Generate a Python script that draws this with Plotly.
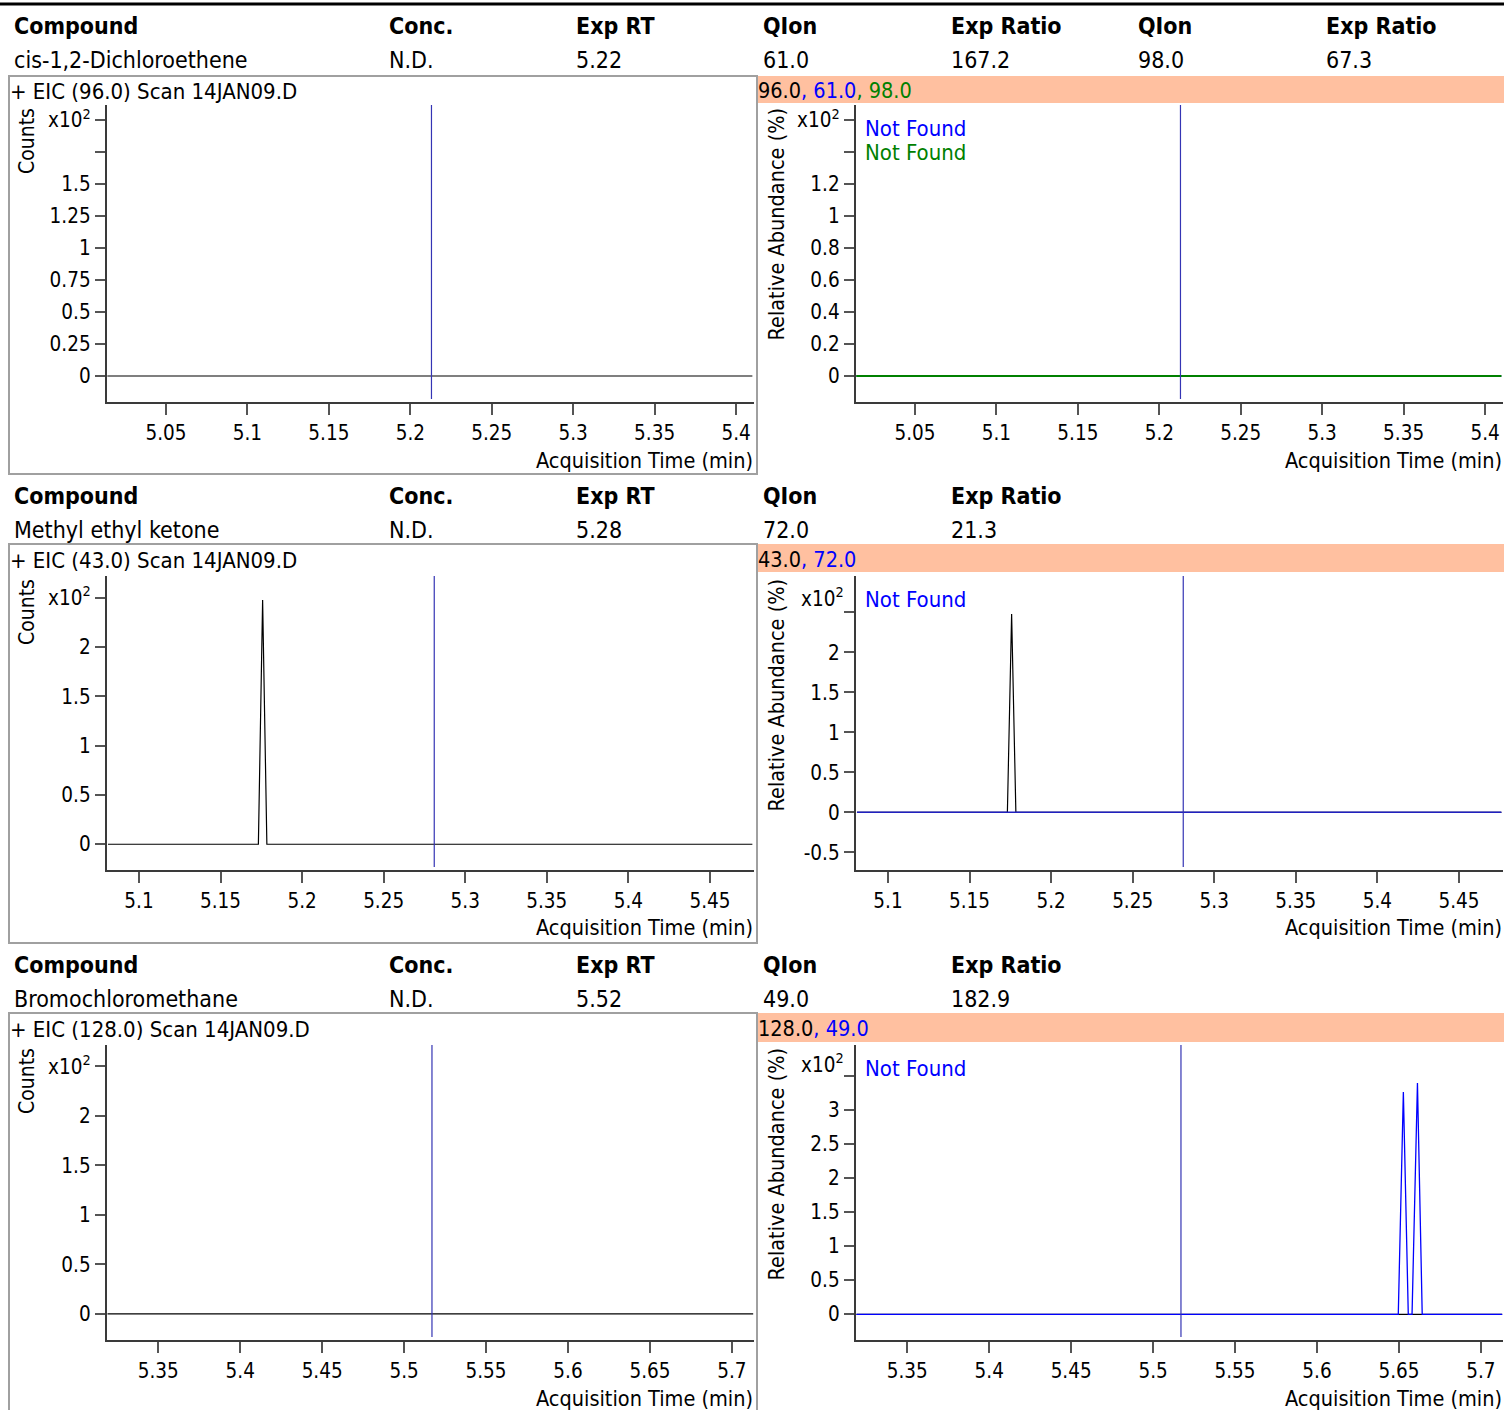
import plotly.graph_objects as go

# ---------------- data ----------------
header_cols = ["Compound", "Conc.", "Exp RT", "QIon", "Exp Ratio", "QIon", "Exp Ratio"]
compounds = ["cis-1,2-Dichloroethene", "Methyl ethyl ketone", "Bromochloromethane"]
concs = ["N.D.", "N.D.", "N.D."]
exp_rt = ["5.22", "5.28", "5.52"]
qion_info = [["61.0", "167.2", "98.0", "67.3"], ["72.0", "21.3"], ["49.0", "182.9"]]
eic_titles = ["+ EIC (96.0) Scan 14JAN09.D", "+ EIC (43.0) Scan 14JAN09.D", "+ EIC (128.0) Scan 14JAN09.D"]
ion_labels = [[("96.0", "black"), ("61.0", "blue"), ("98.0", "green")],
              [("43.0", "black"), ("72.0", "blue")],
              [("128.0", "black"), ("49.0", "blue")]]
not_found = [[("Not Found", "blue"), ("Not Found", "green")],
             [("Not Found", "blue")],
             [("Not Found", "blue")]]

# retention-time marker (min)
rt_marker = [5.213, 5.281, 5.517]

# block 1: cis-1,2-Dichloroethene
eic96_t = [5.014, 5.410]
eic96_y = [0, 0]
q61_t = [5.014, 5.410]
q61_y = [0, 0]
q98_t = [5.014, 5.410]
q98_y = [0, 0]

# block 2: Methyl ethyl ketone
eic43_t = [5.081, 5.1732, 5.1758, 5.1784, 5.476]
eic43_y = [0, 0, 2.478, 0, 0]
rel43_y = [0, 0, 2.479, 0, 0]
q72_t = [5.081, 5.476]
q72_y = [0, 0]

# block 3: Bromochloromethane
eic128_t = [5.319, 5.713]
eic128_y = [0, 0]
q49_t = [5.319, 5.6496, 5.6527, 5.6557, 5.6580, 5.6613, 5.6642, 5.713]
q49_y = [0, 0, 3.27, 0, 0, 3.40, 0, 0]

# axis ticks
x_ticks = [[5.05, 5.1, 5.15, 5.2, 5.25, 5.3, 5.35, 5.4],
           [5.1, 5.15, 5.2, 5.25, 5.3, 5.35, 5.4, 5.45],
           [5.35, 5.4, 5.45, 5.5, 5.55, 5.6, 5.65, 5.7]]
x_ranges = [[5.0135, 5.411], [5.0801, 5.477], [5.3184, 5.7135]]

yl_ticks = [[0, 0.25, 0.5, 0.75, 1, 1.25, 1.5, 2.0],
            [0, 0.5, 1, 1.5, 2, 2.5],
            [0, 0.5, 1, 1.5, 2, 2.5]]
yl_text = [["0", "0.25", "0.5", "0.75", "1", "1.25", "1.5", "x10<sup>2</sup>"],
           ["0", "0.5", "1", "1.5", "2", "x10<sup>2</sup>"],
           ["0", "0.5", "1", "1.5", "2", "x10<sup>2</sup>"]]
yl_unlabeled = [[1.75], [], []]
yl_ranges = [[-0.203, 2.117], [-0.261, 2.721], [-0.263, 2.717]]

yr_ticks = [[0, 0.2, 0.4, 0.6, 0.8, 1.0, 1.2, 1.6],
            [-0.5, 0, 0.5, 1, 1.5, 2],
            [0, 0.5, 1, 1.5, 2, 2.5, 3]]
yr_text = [["0", "0.2", "0.4", "0.6", "0.8", "1", "1.2", "x10<sup>2</sup>"],
           ["-0.5", "0", "0.5", "1", "1.5", "2"],
           ["0", "0.5", "1", "1.5", "2", "2.5", "3"]]
yr_unlabeled = [[1.4], [2.5], [3.5]]
yr_ranges = [[-0.1625, 1.694], [-0.721, 2.954], [-0.378, 3.96]]

# ---------------- layout helpers ----------------
W, H = 1504, 1410
FONT = "DejaVu Sans Condensed, Liberation Sans Narrow, DejaVu Sans, sans-serif"


def X(px):
    return px / W


def Y(px):
    return 1 - px / H


block_off = [0, 469.5, 938.5]
plot_top = [105, 576, 1045]
plot_bot = [402, 870, 1340]
LEFT_X = (106.5, 754)
RIGHT_X = (855.5, 1503)

fig = go.Figure()

AX_LINE = "#3a3a3a"
TICK_C = "#555555"
TICK_FS = 20.5

annotations = []
shapes = []

# top rule
shapes.append(dict(type="line", xref="paper", yref="paper", x0=0, x1=1, y0=Y(4), y1=Y(4),
                   line=dict(color="black", width=3)))

col_x = [12, 387, 574, 761, 949, 1136, 1324]

for b in range(3):
    off = block_off[b]
    ncols = 3 + len(qion_info[b])
    for i in range(ncols):
        annotations.append(dict(x=X(col_x[i]), y=Y(26 + off), xref="paper", yref="paper",
                                text="<b>%s</b>" % header_cols[i], showarrow=False,
                                xanchor="left", yanchor="middle",
                                font=dict(family=FONT, size=23, color="black")))
    vals = [compounds[b], concs[b], exp_rt[b]] + qion_info[b]
    for i, v in enumerate(vals):
        annotations.append(dict(x=X(col_x[i]), y=Y(60 + off), xref="paper", yref="paper",
                                text=v, showarrow=False, xanchor="left", yanchor="middle",
                                font=dict(family=FONT, size=23, color="black")))

    box_top = [76, 544, 1013][b]
    box_bot = [474, 943, 1420][b]
    shapes.append(dict(type="rect", xref="paper", yref="paper", x0=X(9), x1=X(757),
                       y0=Y(box_bot), y1=Y(box_top), line=dict(color="#a0a0a0", width=2)))
    band_bot = [103, 572, 1042][b]
    shapes.append(dict(type="rect", xref="paper", yref="paper", x0=X(758), x1=1,
                       y0=Y(band_bot), y1=Y(box_top), fillcolor="#FFC0A0", line=dict(width=0),
                       layer="below"))
    annotations.append(dict(x=X(8), y=Y(box_top + 16), xref="paper", yref="paper",
                            text=eic_titles[b], showarrow=False, xanchor="left", yanchor="middle",
                            font=dict(family=FONT, size=22, color="black")))
    parts = []
    for j, (t, c) in enumerate(ion_labels[b]):
        prefix = "" if j == 0 else ", "
        parts.append('<span style="color:%s">%s%s</span>' % (c, prefix, t))
    annotations.append(dict(x=X(756), y=Y((box_top + band_bot) / 2 + 1), xref="paper", yref="paper",
                            text="".join(parts), showarrow=False, xanchor="left", yanchor="middle",
                            font=dict(family=FONT, size=21.5, color="black")))
    for j, (t, c) in enumerate(not_found[b]):
        annotations.append(dict(x=X(863), y=Y(plot_top[b] + 23 + 24 * j), xref="paper", yref="paper",
                                text=t, showarrow=False, xanchor="left", yanchor="middle",
                                font=dict(family=FONT, size=22, color=c)))
    annotations.append(dict(x=X(27), y=Y(plot_top[b] + 1), xref="paper", yref="paper",
                            text="Counts", textangle=-90, showarrow=False,
                            xanchor="center", yanchor="top",
                            font=dict(family=FONT, size=21, color="black")))
    annotations.append(dict(x=X(776), y=Y(plot_top[b] + 1), xref="paper", yref="paper",
                            text="Relative Abundance (%)", textangle=-90, showarrow=False,
                            xanchor="center", yanchor="top",
                            font=dict(family=FONT, size=21.5, color="black")))
    for xr in (LEFT_X[1] + 1, RIGHT_X[1] + 1):
        annotations.append(dict(x=X(xr), y=Y(plot_bot[b] + 58), xref="paper", yref="paper",
                                text="Acquisition Time (min)", showarrow=False,
                                xanchor="right", yanchor="middle",
                                font=dict(family=FONT, size=21.5, color="black")))

# x10^2 labels that are not on a tick (right panels of blocks 2,3)
for b, ypx in ((1, 597), (2, 1063)):
    annotations.append(dict(x=X(846), y=Y(ypx), xref="paper", yref="paper",
                            text="x10<sup>2</sup>", showarrow=False, xanchor="right", yanchor="middle",
                            font=dict(family=FONT, size=TICK_FS, color="black")))

# ---------------- traces ----------------
def add(xa, ya, t, y, color, width=1.2):
    fig.add_trace(go.Scatter(x=t, y=y, mode="lines", line=dict(color=color, width=width),
                             xaxis=xa, yaxis=ya, hoverinfo="skip", showlegend=False))

add("x", "y", eic96_t, eic96_y, "black")
add("x2", "y2", eic96_t, eic96_y, "black", 0.8)
add("x2", "y2", q61_t, q61_y, "blue", 0.8)
add("x2", "y2", q98_t, q98_y, "#008000", 1.8)

add("x3", "y3", eic43_t, eic43_y, "black")
add("x4", "y4", eic43_t, rel43_y, "black")
add("x4", "y4", q72_t, q72_y, "#2020c0", 1.4)

add("x5", "y5", eic128_t, eic128_y, "black")
add("x6", "y6", eic128_t, eic128_y, "black")
add("x6", "y6", q49_t, q49_y, "blue", 1.3)

layout_axes = {}
for b in range(3):
    ydom = [Y(plot_bot[b]), Y(plot_top[b])]
    for side in range(2):
        idx = 2 * b + side + 1
        xname = "xaxis" if idx == 1 else "xaxis%d" % idx
        yname = "yaxis" if idx == 1 else "yaxis%d" % idx
        xid = "x" if idx == 1 else "x%d" % idx
        yid = "y" if idx == 1 else "y%d" % idx
        xpx = LEFT_X if side == 0 else RIGHT_X
        layout_axes[xname] = dict(
            domain=[X(xpx[0]), X(xpx[1])], range=x_ranges[b], anchor=yid,
            tickmode="array", tickvals=x_ticks[b], ticktext=["%g" % v for v in x_ticks[b]],
            ticks="outside", ticklen=11, tickcolor=TICK_C, tickwidth=1.5,
            showline=True, linecolor=AX_LINE, linewidth=2, showgrid=False, zeroline=False,
            tickfont=dict(family=FONT, size=TICK_FS, color="black"), fixedrange=True)
        if side == 0:
            tv, tt, rg, un = yl_ticks[b], yl_text[b], yl_ranges[b], yl_unlabeled[b]
        else:
            tv, tt, rg, un = yr_ticks[b], yr_text[b], yr_ranges[b], yr_unlabeled[b]
        ycfg = dict(
            domain=ydom, range=rg, anchor=xid,
            tickmode="array", tickvals=tv, ticktext=tt,
            ticks="outside", ticklen=10, tickcolor=TICK_C, tickwidth=1.5,
            showline=True, linecolor=AX_LINE, linewidth=1.5, showgrid=False, zeroline=False,
            tickfont=dict(family=FONT, size=TICK_FS, color="black"), fixedrange=True)
        if un:
            ycfg["minor"] = dict(tickmode="array", tickvals=un, ticks="outside", ticklen=10,
                                 tickcolor=TICK_C, tickwidth=1.5, showgrid=False)
        layout_axes[yname] = ycfg
        shapes.append(dict(type="line", xref=xid, yref="%s domain" % yid,
                           x0=rt_marker[b], x1=rt_marker[b], y0=0.01, y1=1,
                           line=dict(color="#3434b4", width=1.2)))

fig.update_layout(
    width=W, height=H, margin=dict(l=0, r=0, t=0, b=0),
    paper_bgcolor="white", plot_bgcolor="white", showlegend=False,
    font=dict(family=FONT, size=20, color="black"),
    annotations=annotations, shapes=shapes, **layout_axes)

fig.write_html("out.html", config={"displayModeBar": False},
               post_script="document.body.style.margin='0px';document.body.style.overflow='hidden';")
